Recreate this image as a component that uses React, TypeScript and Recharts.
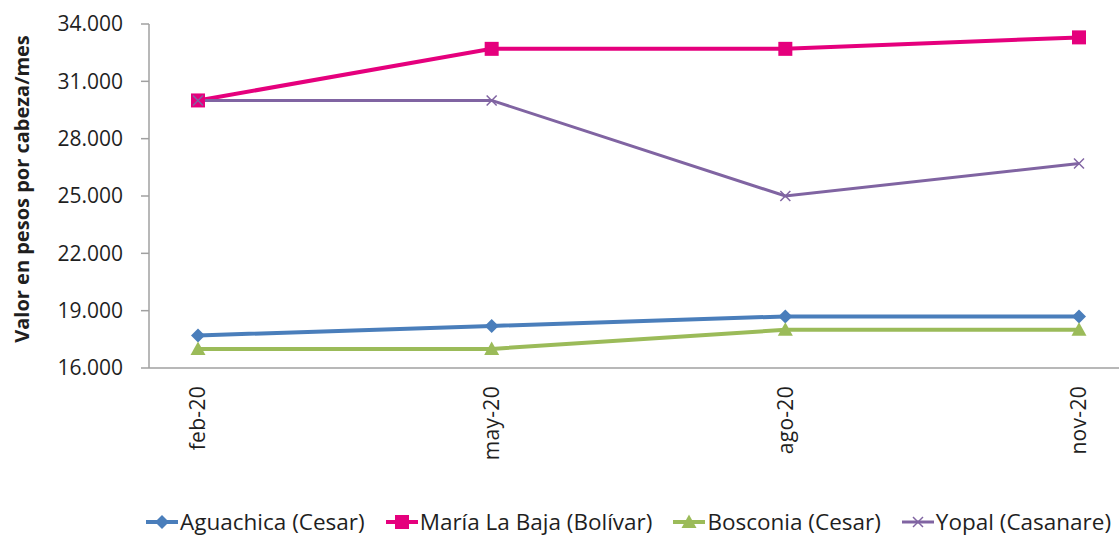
import React from 'react';
import { LineChart, Line, XAxis, YAxis, Legend } from 'recharts';

const categories = ['feb-20', 'may-20', 'ago-20', 'nov-20'];
const aguachica = [17700, 18200, 18700, 18700];
const mariaLaBaja = [30000, 32700, 32700, 33300];
const bosconia = [17000, 17000, 18000, 18000];
const yopal = [30000, 30000, 25000, 26700];
const yTicks = [16000, 19000, 22000, 25000, 28000, 31000, 34000];

const seriesNames = ['Aguachica (Cesar)', 'María La Baja (Bolívar)', 'Bosconia (Cesar)', 'Yopal (Casanare)'];
const colors = ['#4A7EBB', '#E5007D', '#9BBB59', '#8064A2'];
const markers = ['diamond', 'square', 'triangle', 'cross'];

const data = categories.map((c, i) => ({
  cat: c,
  s0: aguachica[i],
  s1: mariaLaBaja[i],
  s2: bosconia[i],
  s3: yopal[i],
}));

const FONT = '"Open Sans", "Noto Sans", sans-serif';
const TEXT = '#1f1f1f';
const AXIS = '#a0a0a0';

const fmt = (v: number) => String(v).replace(/\B(?=(\d{3})+(?!\d))/g, '.');

function Marker({ kind, cx, cy, color }: { kind: string; cx: number; cy: number; color: string }) {
  if (kind === 'diamond') {
    const r = 7;
    return <polygon points={`${cx},${cy - r} ${cx + r},${cy} ${cx},${cy + r} ${cx - r},${cy}`} fill={color} />;
  }
  if (kind === 'square') {
    const r = 7;
    return <rect x={cx - r} y={cy - r} width={2 * r} height={2 * r} fill={color} />;
  }
  if (kind === 'triangle') {
    const r = 7.5;
    return <polygon points={`${cx},${cy - r} ${cx + r},${cy + r * 0.8} ${cx - r},${cy + r * 0.8}`} fill={color} />;
  }
  const r = 5;
  return (
    <g stroke={color} strokeWidth={1.5}>
      <line x1={cx - r} y1={cy - r} x2={cx + r} y2={cy + r} />
      <line x1={cx - r} y1={cy + r} x2={cx + r} y2={cy - r} />
    </g>
  );
}

const makeDot = (idx: number) => (props: any) => {
  const { cx, cy, index } = props;
  if (cx == null || cy == null) return <g key={`d${idx}-${index}`} />;
  return (
    <g key={`d${idx}-${index}`}>
      <Marker kind={markers[idx]} cx={cx} cy={cy} color={colors[idx]} />
    </g>
  );
};

const XTick = (props: any) => {
  const { x, y, payload } = props;
  const ty = y + 18;
  return (
    <text
      x={x}
      y={ty}
      dy="0.35em"
      transform={`rotate(-90, ${x}, ${ty})`}
      textAnchor="end"
      fontSize={21}
      fontFamily={FONT}
      fill={TEXT}
      letterSpacing={0.3}
    >
      {payload.value}
    </text>
  );
};

const YLabel = (props: any) => {
  const vb = props.viewBox || {};
  const x = 29;
  const y = (vb.y ?? 0) + (vb.height ?? 0) / 2 - 7;
  return (
    <text
      x={x}
      y={y}
      transform={`rotate(-90, ${x}, ${y})`}
      textAnchor="middle"
      fontSize={20}
      fontWeight="bold"
      fontFamily={FONT}
      fill={TEXT}
    >
      Valor en pesos por cabeza/mes
    </text>
  );
};

const LegendContent = () => (
  <div
    style={{
      display: 'flex',
      alignItems: 'center',
      whiteSpace: 'nowrap',
      overflow: 'hidden',
      paddingLeft: 146,
      height: 30,
      lineHeight: '30px',
      fontFamily: FONT,
      fontSize: 22.5,
      color: TEXT,
    }}
  >
    {seriesNames.map((n, i) => (
      <div key={n} style={{ display: 'flex', alignItems: 'center', marginRight: i < 3 ? 21 : 0, flexShrink: 0 }}>
        <svg width={32} height={18} style={{ marginRight: 2 }}>
          <line x1={0} y1={9} x2={32} y2={9} stroke={colors[i]} strokeWidth={i === 3 ? 3 : 4} />
          <Marker kind={markers[i]} cx={16} cy={9} color={colors[i]} />
        </svg>
        <span>{n}</span>
      </div>
    ))}
  </div>
);

export default function App() {
  return (
    <div style={{ position: 'absolute', left: 0, top: 0, width: 1119, height: 537, overflow: 'hidden', background: '#fff' }}>
      <LineChart width={1119} height={537} data={data} margin={{ top: 24, right: 0, left: 0, bottom: 0 }}>
        <XAxis
          dataKey="cat"
          type="category"
          padding={{ left: 49, right: 40 }}
          height={139}
          stroke={AXIS}
          strokeWidth={1.5}
          tickLine={false}
          tickSize={0}
          tickMargin={0}
          tick={<XTick />}
          interval={0}
        />
        <YAxis
          type="number"
          domain={[16000, 34000]}
          ticks={yTicks}
          width={149}
          stroke={AXIS}
          strokeWidth={1.5}
          tickSize={8}
          tickMargin={18}
          tickFormatter={fmt}
          tick={{ fontSize: 21, fontFamily: FONT, fill: TEXT }}
          interval={0}
          label={<YLabel />}
        />
        <Legend verticalAlign="bottom" align="left" content={<LegendContent />} wrapperStyle={{ left: 0, width: 1119 }} />
        <Line dataKey="s0" name={seriesNames[0]} stroke={colors[0]} strokeWidth={4} dot={makeDot(0)} activeDot={false} isAnimationActive={false} />
        <Line dataKey="s1" name={seriesNames[1]} stroke={colors[1]} strokeWidth={4} dot={makeDot(1)} activeDot={false} isAnimationActive={false} />
        <Line dataKey="s2" name={seriesNames[2]} stroke={colors[2]} strokeWidth={4} dot={makeDot(2)} activeDot={false} isAnimationActive={false} />
        <Line dataKey="s3" name={seriesNames[3]} stroke={colors[3]} strokeWidth={3} dot={makeDot(3)} activeDot={false} isAnimationActive={false} />
      </LineChart>
    </div>
  );
}
